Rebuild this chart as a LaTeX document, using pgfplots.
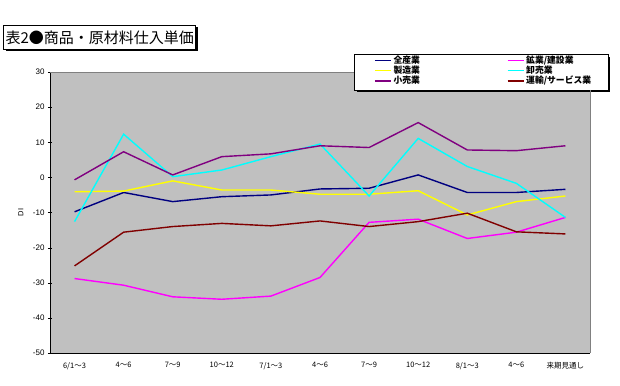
\documentclass[border=0pt]{standalone}
\usepackage{pgfplots}
\pgfplotsset{compat=1.18}
\usepackage{fontspec}
\setmainfont{Liberation Sans}
\newfontfamily\cjk{Noto Sans CJK JP}
\usetikzlibrary{shadows}
\definecolor{plotgray}{RGB}{192,192,192}
\definecolor{cnavy}{RGB}{0,0,128}
\definecolor{cmag}{RGB}{255,0,255}
\definecolor{cyel}{RGB}{255,255,0}
\definecolor{ccyan}{RGB}{0,255,255}
\definecolor{cpur}{RGB}{128,0,128}
\definecolor{cbrown}{RGB}{128,0,0}
\begin{document}
\begin{tikzpicture}
\useasboundingbox[fill=white] (0pt,0pt) rectangle (620pt,385pt);
\begin{axis}[
  at={(50pt,32pt)}, anchor=south west,
  width=540pt, height=281pt, scale only axis,
  xmin=-0.5, xmax=10.5, ymin=-50, ymax=30,
  clip=false,
  ytick={-50,-40,...,30},
  xtick={0,...,10},
  xticklabels={6/1〜3,4〜6,7〜9,10〜12,7/1〜3,4〜6,7〜9,10〜12,8/1〜3,4〜6,来期見通し},
  extra x ticks={0.5,1.5,...,9.5},
  extra x tick labels={},
  extra x tick style={major tick length=3pt, tick align=inside, tick style={black}},
  x tick style={draw=none},
  y tick style={black},
  major tick length=4pt,
  ytick align=center,
  axis background/.style={fill=plotgray},
  axis line style={black, line width=0.8pt},
  axis x line*=bottom, axis y line*=left,
  /pgf/number format/assume math mode=true,
  yticklabel style={font=\fontsize{8}{9}\selectfont},
  xticklabel style={font=\cjk\fontsize{7.5}{8}\selectfont, yshift=-6pt},
  ylabel={DI},
  ylabel style={font=\fontsize{7.5}{8}\selectfont, at={(rel axis cs:-0.054,0.5)}, anchor=center},
  legend columns=2,
  legend cell align=left,
  legend image code/.code={\draw[#1, line width=1.3pt] (0pt,0pt) -- (16pt,0pt);},
  legend style={at={(rel axis cs:0.6,1.0605)}, anchor=north west,
    draw=none, fill=none,
    font=\cjk\bfseries\fontsize{8.8}{9.5}\selectfont,
    nodes={fill=none, inner ysep=0.6pt},
    inner sep=0pt, row sep=0pt,
    /tikz/every even column/.append style={column sep=85pt}},
  every axis plot/.append style={line width=1.4pt},
]
\fill[black] (rel axis cs:0.5676,0.9271) rectangle (rel axis cs:1.0379,1.0551);
\draw[black, line width=0.9pt, fill=white] (rel axis cs:0.563,0.936) rectangle (rel axis cs:1.0333,1.064);
\addplot[cnavy] coordinates {(0,-9.8) (1,-4.3) (2,-6.9) (3,-5.5) (4,-5.0) (5,-3.3) (6,-3.1) (7,0.7) (8,-4.3) (9,-4.3) (10,-3.4)};
\addlegendentry{全産業}
\addplot[cmag] coordinates {(0,-28.8) (1,-30.7) (2,-34.0) (3,-34.7) (4,-33.8) (5,-28.5) (6,-12.8) (7,-11.9) (8,-17.4) (9,-15.6) (10,-11.4)};
\addlegendentry{鉱業/建設業}
\addplot[cyel] coordinates {(0,-4.1) (1,-3.9) (2,-1.0) (3,-3.6) (4,-3.6) (5,-4.8) (6,-4.8) (7,-3.8) (8,-10.7) (9,-6.9) (10,-5.3)};
\addlegendentry{製造業}
\addplot[ccyan] coordinates {(0,-12.6) (1,12.3) (2,0.2) (3,2.1) (4,5.9) (5,9.5) (6,-5.3) (7,11.1) (8,3.1) (9,-1.7) (10,-11.4)};
\addlegendentry{卸売業}
\addplot[cpur] coordinates {(0,-0.7) (1,7.3) (2,0.7) (3,5.9) (4,6.7) (5,9.0) (6,8.5) (7,15.6) (8,7.8) (9,7.6) (10,9.0)};
\addlegendentry{小売業}
\addplot[cbrown] coordinates {(0,-25.2) (1,-15.6) (2,-14.0) (3,-13.1) (4,-13.8) (5,-12.4) (6,-14.0) (7,-12.6) (8,-10.2) (9,-15.5) (10,-16.1)};
\addlegendentry{運輸/サービス業}
\end{axis}
\draw[gray, line width=0.8pt] (50pt,313pt) -- (354pt,313pt);
\draw[gray, line width=0.8pt] (590pt,295pt) -- (590pt,32pt);
\node[draw=black, line width=1pt, fill=white, anchor=north west,
  drop shadow={shadow xshift=2pt, shadow yshift=-2pt, fill=black, opacity=1},
  inner xsep=2pt, inner ysep=2pt, minimum height=24pt,
  font=\cjk\fontsize{15}{16}\selectfont] at (3pt,360pt) {表2●商品・原材料仕入単価};
\end{tikzpicture}
\end{document}
